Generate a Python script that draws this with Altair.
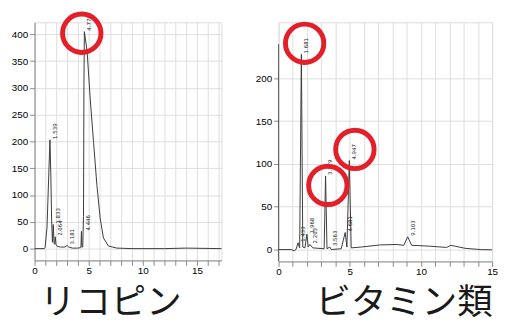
import altair as alt
import pandas as pd

# ---- Left chromatogram: リコピン ----
lyc_time = [0, 0.9, 0.97, 1.15, 1.3, 1.42, 1.5, 1.58, 1.65, 1.73, 1.8, 1.86, 1.91, 1.98, 2.1, 2.4,
            2.8, 3.0, 3.15, 3.5, 4.0, 4.28, 4.33, 4.38, 4.45, 4.52, 4.56, 4.6, 4.85, 5.15, 5.45,
            5.76, 6.06, 6.36, 6.82, 7.6, 9, 12, 14, 17.3]
lyc_signal = [0, 0, 2, 40, 130, 203, 140, 50, 12, 45, 10, 8, 22, 8, 4, 3,
              3, 6, 3, 1, 1, 2, 32, 3, 3, 60, 300, 405, 369, 277, 198,
              118, 57, 20, 5, 1, 0, 0, 1, 0]
lyc_peak_labels = ["1.539", "1.833", "2.064", "3.181", "4.446", "4.776"]
lyc_peak_time = [1.42, 1.73, 1.91, 3.0, 4.45, 4.6]
lyc_peak_signal = [203, 45, 22, 6, 32, 405]
lyc_circle_time = [4.36]
lyc_circle_signal = [402]
lyc_y_ticks = [0, 50, 100, 150, 200, 250, 300, 350, 400]

# ---- Right chromatogram: ビタミン類 ----
vit_time = [0, 0.9, 1.1, 1.22, 1.37, 1.48, 1.6, 1.7, 1.85, 1.99, 2.08, 2.2, 2.4, 3.2, 3.3, 3.4,
            3.6, 3.7, 4.4, 4.68, 4.8, 4.97, 5.1, 5.8, 7.1, 8.3, 8.8, 9.07, 9.35, 10.6, 11.8,
            12.1, 13.1, 14.2, 15.6]
vit_signal = [0, 0, -1.5, 0, 8, 2, 228, 3, 2, 18, 3, 6, 2, 1, 86, 1,
              3, 0, 1, 20, 3, 104, 2, 3, 5.4, 6, 5, 15, 5, 4, 2.5,
              5, 1.5, 0, -0.5]
vit_peak_labels = ["1.433", "1.681", "1.968", "2.203", "3.179", "3.563", "4.681", "4.947", "9.103"]
vit_peak_time = [1.37, 1.6, 1.99, 2.2, 3.3, 3.6, 4.68, 4.97, 9.07]
vit_peak_signal = [8, 228, 18, 6, 86, 3, 20, 104, 15]
vit_circle_time = [1.83, 5.36, 3.46]
vit_circle_signal = [241, 117, 75]
vit_y_ticks = [0, 50, 100, 150, 200]

x_ticks_left = list(range(0, 18))
x_ticks_right = list(range(0, 16))

RED = "#e3202a"
LINE = "#3a3a3a"


def panel(times, signals, labels, ptimes, psignals, ctimes, csignals, yticks, xticks,
          xdom, ydom, width, height, title, title_x, title_y, axis_top=None):
    trace = pd.DataFrame({"t": times, "v": signals})
    peaks = pd.DataFrame({"t": ptimes, "v": psignals, "lab": labels})
    circles = pd.DataFrame({"t": ctimes, "v": csignals})

    x_enc = alt.X("t:Q", scale=alt.Scale(domain=xdom, nice=False, zero=False),
                  axis=alt.Axis(values=xticks,
                                labelExpr="datum.value % 5 == 0 ? datum.label : ''",
                                title=title, titleFont="Noto Sans CJK JP", titleFontSize=36,
                                titleFontWeight="normal", titleColor="#1a1a1a",
                                titleAlign="center", titleBaseline="alphabetic",
                                titleX=title_x, titleY=title_y, labelFlush=False,
                                labelPadding=0))
    y_enc = alt.Y("v:Q", scale=alt.Scale(domain=ydom, nice=False, zero=False),
                  axis=alt.Axis(values=yticks, title=None, domain=axis_top is None,
                                labelPadding=2))

    line = alt.Chart(trace).mark_line(color=LINE, strokeWidth=1, clip=True).encode(x=x_enc, y=y_enc)
    text = alt.Chart(peaks).mark_text(angle=270, align="left", baseline="top", dx=1, dy=3,
                                      fontSize=5.5, font="DejaVu Sans", color="#222").encode(
        x=x_enc, y=y_enc, text="lab:N")
    circ = alt.Chart(circles).mark_point(shape="circle", filled=False, size=1521,
                                         strokeWidth=5, strokeJoin="round", color=RED,
                                         opacity=1).encode(x=x_enc, y=y_enc)
    layers = [line, text, circ]
    if axis_top is not None:
        rule_df = pd.DataFrame({"t": [0], "v": [ydom[0]], "v2": [axis_top]})
        rule = alt.Chart(rule_df).mark_rule(color="#555", strokeWidth=1).encode(
            x=x_enc, y=y_enc, y2="v2:Q")
        layers.insert(0, rule)
    return alt.layer(*layers).properties(width=width, height=height)


left = panel(lyc_time, lyc_signal, lyc_peak_labels, lyc_peak_time, lyc_peak_signal,
             lyc_circle_time, lyc_circle_signal, lyc_y_ticks, x_ticks_left,
             [0, 17.27], [-22, 422.4], 190, 242, "リコピン", 77, 53.5)
right = panel(vit_time, vit_signal, vit_peak_labels, vit_peak_time, vit_peak_signal,
              vit_circle_time, vit_circle_signal, vit_y_ticks, x_ticks_right,
              [0, 15.0], [-13.8, 265.5], 217, 243, "ビタミン類", 127, 52.5, axis_top=240)

chart = alt.hconcat(left, right, spacing=58, bounds="flush").properties(
    padding={"left": 2, "top": 0, "right": 0, "bottom": -4}
).configure_view(stroke=None).configure_axis(
    grid=False, domainColor="#555", tickColor="#555", labelColor="#444",
    labelFont="DejaVu Sans", labelFontSize=7.5, tickSize=3
).configure(background="white")

chart.save("out.html", embed_options={"renderer": "svg", "actions": False})
